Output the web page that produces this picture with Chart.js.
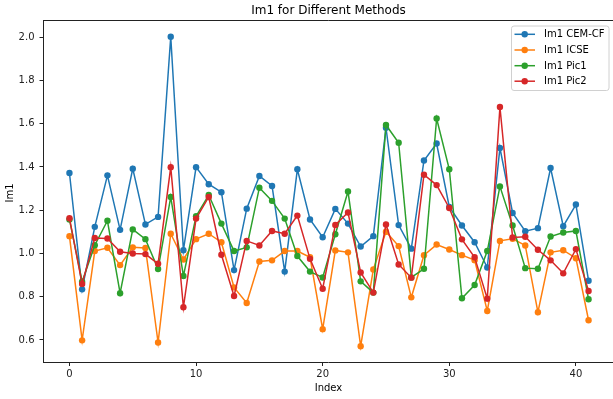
<!DOCTYPE html>
<html>
<head>
<meta charset="utf-8">
<title>Im1 for Different Methods</title>
<script src="https://cdn.jsdelivr.net/npm/chart.js"></script>
<style>
  body { margin: 0; background: #fff; }
</style>
</head>
<body>
<canvas id="im1Chart" width="613" height="399"></canvas>
<script>
// index of each sample
const indices = [0, 1, 2, 3, 4, 5, 6, 7, 8, 9, 10, 11, 12, 13, 14, 15, 16, 17, 18, 19, 20,
                 21, 22, 23, 24, 25, 26, 27, 28, 29, 30, 31, 32, 33, 34, 35, 36, 37, 38, 39, 40, 41];

// Im1 values
const cemCf = [1.372, 0.834, 1.123, 1.361, 1.109, 1.392, 1.134, 1.169, 2.002, 1.015,
               1.399, 1.320, 1.283, 0.923, 1.207, 1.358, 1.312, 0.916, 1.389, 1.157,
               1.075, 1.206, 1.138, 1.032, 1.080, 1.581, 1.131, 1.022, 1.430, 1.508,
               1.215, 1.129, 1.052, 0.935, 1.488, 1.187, 1.103, 1.117, 1.395, 1.126,
               1.226, 0.874];
const icse  = [1.080, 0.598, 1.011, 1.026, 0.946, 1.028, 1.025, 0.588, 1.091, 0.972,
               1.066, 1.091, 1.052, 0.843, 0.771, 0.963, 0.968, 1.011, 1.011, 0.982,
               0.650, 1.014, 1.005, 0.571, 0.926, 1.100, 1.034, 0.797, 0.992, 1.041,
               1.018, 0.992, 0.969, 0.734, 1.058, 1.068, 1.037, 0.728, 1.005, 1.015,
               0.978, 0.691];
const pic1  = [1.157, 0.869, 1.038, 1.151, 0.816, 1.111, 1.066, 0.928, 1.261, 0.896,
               1.172, 1.270, 1.138, 1.011, 1.028, 1.304, 1.243, 1.161, 0.988, 0.916,
               0.889, 1.089, 1.286, 0.871, 0.819, 1.594, 1.512, 0.889, 0.929, 1.624,
               1.389, 0.793, 0.854, 1.011, 1.310, 1.129, 0.932, 0.929, 1.078, 1.097,
               1.104, 0.788];
const pic2  = [1.163, 0.859, 1.071, 1.069, 1.008, 1.000, 0.997, 0.952, 1.399, 0.751,
               1.161, 1.261, 0.994, 0.803, 1.058, 1.037, 1.104, 1.091, 1.175, 0.975,
               0.837, 1.132, 1.189, 0.912, 0.819, 1.134, 0.949, 0.888, 1.364, 1.316,
               1.210, 1.065, 0.982, 0.791, 1.677, 1.074, 1.077, 1.017, 0.968, 0.908,
               1.020, 0.826];

const seriesNames = ["Im1 CEM-CF", "Im1 ICSE", "Im1 Pic1", "Im1 Pic2"];
const seriesColors = ["#1f77b4", "#ff7f0e", "#2ca02c", "#d62728"];
const xTicks = [0, 10, 20, 30, 40];
const yTicks = [0.6, 0.8, 1.0, 1.2, 1.4, 1.6, 1.8, 2.0];

const FONT = "DejaVu Sans, sans-serif";

function toPoints(vals) {
  return vals.map((v, i) => ({ x: indices[i], y: v }));
}

const allSeries = [cemCf, icse, pic1, pic2];
const datasets = allSeries.map((vals, k) => ({
  label: seriesNames[k],
  data: toPoints(vals),
  borderColor: seriesColors[k],
  backgroundColor: seriesColors[k],
  pointBackgroundColor: seriesColors[k],
  pointBorderColor: seriesColors[k],
  borderWidth: 1.5,
  pointRadius: 3.2,
  pointBorderWidth: 0,
  tension: 0,
  order: 3 - k   // later series on top, like matplotlib
}));

// title, axis titles, top spine and legend box
const decorations = {
  id: "decorations",
  afterDraw(chart) {
    const ctx = chart.ctx;
    const a = chart.chartArea;
    ctx.save();

    ctx.strokeStyle = "#222";
    ctx.lineWidth = 1;
    ctx.beginPath();
    ctx.moveTo(a.left, a.top);
    ctx.lineTo(a.right, a.top);
    ctx.stroke();

    ctx.fillStyle = "#000";
    ctx.textAlign = "center";
    ctx.textBaseline = "middle";
    ctx.font = "12px " + FONT;
    ctx.fillText("Im1 for Different Methods", 328.5, 11);

    ctx.font = "10px " + FONT;
    ctx.fillText("Index", 328.5, 388);

    ctx.save();
    ctx.translate(10, 193);
    ctx.rotate(-Math.PI / 2);
    ctx.fillText("Im1", 0, 0);
    ctx.restore();

    // legend
    const lx = 511.5, ly = 26, lw = 97.5, lh = 64.5, r = 2.5;
    ctx.beginPath();
    ctx.moveTo(lx + r, ly);
    ctx.arcTo(lx + lw, ly, lx + lw, ly + lh, r);
    ctx.arcTo(lx + lw, ly + lh, lx, ly + lh, r);
    ctx.arcTo(lx, ly + lh, lx, ly, r);
    ctx.arcTo(lx, ly, lx + lw, ly, r);
    ctx.closePath();
    ctx.fillStyle = "rgba(255,255,255,0.8)";
    ctx.fill();
    ctx.strokeStyle = "#d0d0d0";
    ctx.stroke();

    const rows = [34.3, 50, 65.7, 81.2];
    ctx.textAlign = "left";
    seriesNames.forEach((name, k) => {
      const y = rows[k];
      ctx.strokeStyle = seriesColors[k];
      ctx.lineWidth = 1.5;
      ctx.beginPath();
      ctx.moveTo(514.5, y);
      ctx.lineTo(535, y);
      ctx.stroke();
      ctx.fillStyle = seriesColors[k];
      ctx.beginPath();
      ctx.arc(524.7, y, 3.2, 0, Math.PI * 2);
      ctx.fill();
      ctx.fillStyle = "#000";
      ctx.fillText(name, 544, y + 0.5);
    });

    ctx.restore();
  }
};

new Chart(document.getElementById("im1Chart"), {
  type: "line",
  data: { datasets: datasets },
  options: {
    responsive: false,
    animation: false,
    events: [],
    layout: { autoPadding: false, padding: { left: 0, top: 20.5, right: 0, bottom: 0 } },
    plugins: {
      legend: { display: false },
      title: { display: false },
      tooltip: { enabled: false }
    },
    scales: {
      x: {
        type: "linear",
        min: -2.05,
        max: 42.93,
        afterBuildTicks: axis => { axis.ticks = xTicks.map(v => ({ value: v })); },
        afterFit: scale => {
          scale.height = 37;
          scale.paddingLeft = 0;
          scale.paddingRight = 0;
        },
        grid: { display: true, drawOnChartArea: false, drawTicks: true, tickLength: 4, color: "#222" },
        border: { display: true, color: "#222", width: 1 },
        ticks: {
          color: "#222",
          padding: 2,
          maxRotation: 0,
          autoSkip: false,
          font: { family: FONT, size: 10 },
          callback: v => String(v)
        }
      },
      y: {
        type: "linear",
        min: 0.498,
        max: 2.077,
        afterBuildTicks: axis => { axis.ticks = yTicks.map(v => ({ value: v })); },
        afterFit: scale => {
          scale.width = 43.5;
          scale.paddingTop = 0;
          scale.paddingBottom = 0;
        },
        grid: { display: true, drawOnChartArea: false, drawTicks: true, tickLength: 4, color: "#222" },
        border: { display: true, color: "#222", width: 1 },
        ticks: {
          color: "#222",
          padding: 5,
          autoSkip: false,
          font: { family: FONT, size: 10 },
          callback: v => v.toFixed(1)
        }
      }
    }
  },
  plugins: [decorations]
});
</script>
</body>
</html>
